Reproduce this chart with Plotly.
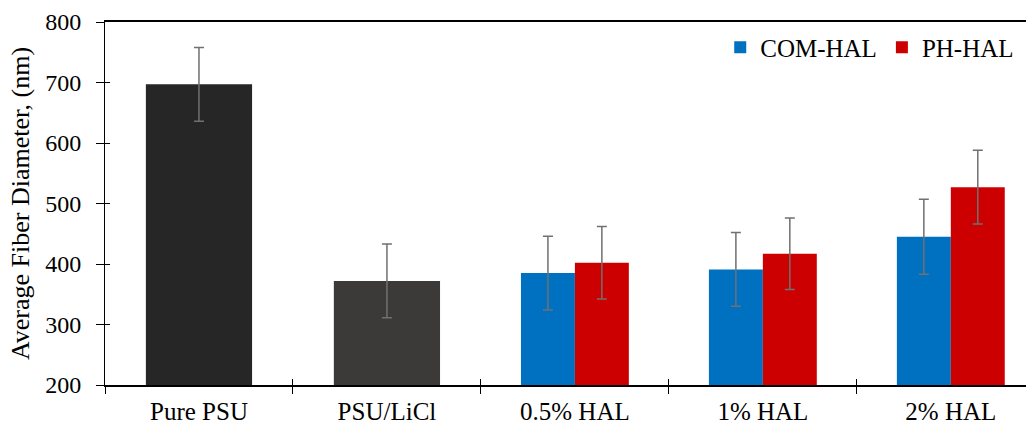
import plotly.graph_objects as go

categories = ["Pure PSU", "PSU/LiCl", "0.5% HAL", "1% HAL", "2% HAL"]
base_cats = ["Pure PSU", "PSU/LiCl"]
base_vals = [697, 372]
base_err = [61, 61]
base_colors = ["#262626", "#3b3a38"]

hal_cats = ["0.5% HAL", "1% HAL", "2% HAL"]
com_vals = [385, 391, 445]
com_err = [61, 61, 62]
ph_vals = [402, 417, 527]
ph_err = [60, 59, 61]

y_ticks = [200, 300, 400, 500, 600, 700, 800]

FONT = "Liberation Serif"
ERR = dict(type="data", thickness=1.5, width=5, color="#707070")

fig = go.Figure()
fig.add_trace(go.Bar(x=base_cats, y=base_vals, error_y=dict(array=base_err, **ERR),
                     marker=dict(color=base_colors, line=dict(width=0)),
                     width=0.565, offset=-0.2825, showlegend=False))
fig.add_trace(go.Bar(x=hal_cats, y=com_vals, error_y=dict(array=com_err, **ERR),
                     name="COM-HAL", marker=dict(color="#0070C0", line=dict(width=0)),
                     width=0.287, offset=-0.287))
fig.add_trace(go.Bar(x=hal_cats, y=ph_vals, error_y=dict(array=ph_err, **ERR),
                     name="PH-HAL", marker=dict(color="#CC0000", line=dict(width=0)),
                     width=0.287, offset=0.0))

fig.update_layout(
    barmode="overlay",
    width=1035, height=428,
    margin=dict(l=105, r=9, t=22, b=43, autoexpand=False),
    plot_bgcolor="white", paper_bgcolor="white",
    font=dict(family=FONT, size=24, color="black"),
    legend=dict(orientation="h", x=0.668, xanchor="left", y=0.93, yanchor="middle",
                font=dict(size=25, family=FONT), bgcolor="rgba(0,0,0,0)",
                itemwidth=30, traceorder="normal"),
    xaxis=dict(type="category", categoryorder="array", categoryarray=categories,
               range=[-0.5, 4.4], tickson="boundaries", ticks="outside", ticklen=7,
               tickcolor="black", tickwidth=1, showline=True, linecolor="black",
               linewidth=1.5, mirror=True, showgrid=False, zeroline=False,
               automargin=False,
               tickfont=dict(size=25, family=FONT), ticklabelstandoff=3),
    xaxis2=dict(type="category", categoryorder="array", categoryarray=categories,
                range=[-0.5, 4.4], overlaying="x", tickson="boundaries",
                ticks="inside", ticklen=6, tickcolor="black", tickwidth=1,
                showticklabels=False, showline=False, showgrid=False, automargin=False),
    yaxis=dict(range=[200, 800], tickvals=y_ticks, ticks="outside", ticklen=8,
               tickcolor="black", tickwidth=1, showline=True, linecolor="black",
               linewidth=1, showgrid=False, zeroline=False, automargin=False,
               tickfont=dict(size=24, family=FONT), ticklabelstandoff=10,
               title=dict(text="Average Fiber Diameter, (nm)", font=dict(size=26, family=FONT), standoff=8)),
    yaxis2=dict(range=[200, 800], tickvals=y_ticks, overlaying="y",
                ticks="inside", ticklen=5, tickcolor="black", tickwidth=1,
                showticklabels=False, showline=False, showgrid=False, automargin=False),
)
# invisible trace (below the visible range) to activate the overlay axes for crossing tick marks
fig.add_trace(go.Scatter(x=categories, y=[0] * len(categories), xaxis="x2", yaxis="y2",
                         showlegend=False, hoverinfo="skip", mode="markers",
                         marker=dict(opacity=0), cliponaxis=True))

fig.write_html("out.html", config={"displayModeBar": False},
               post_script="document.body.style.margin='0';document.body.style.overflow='hidden';")
